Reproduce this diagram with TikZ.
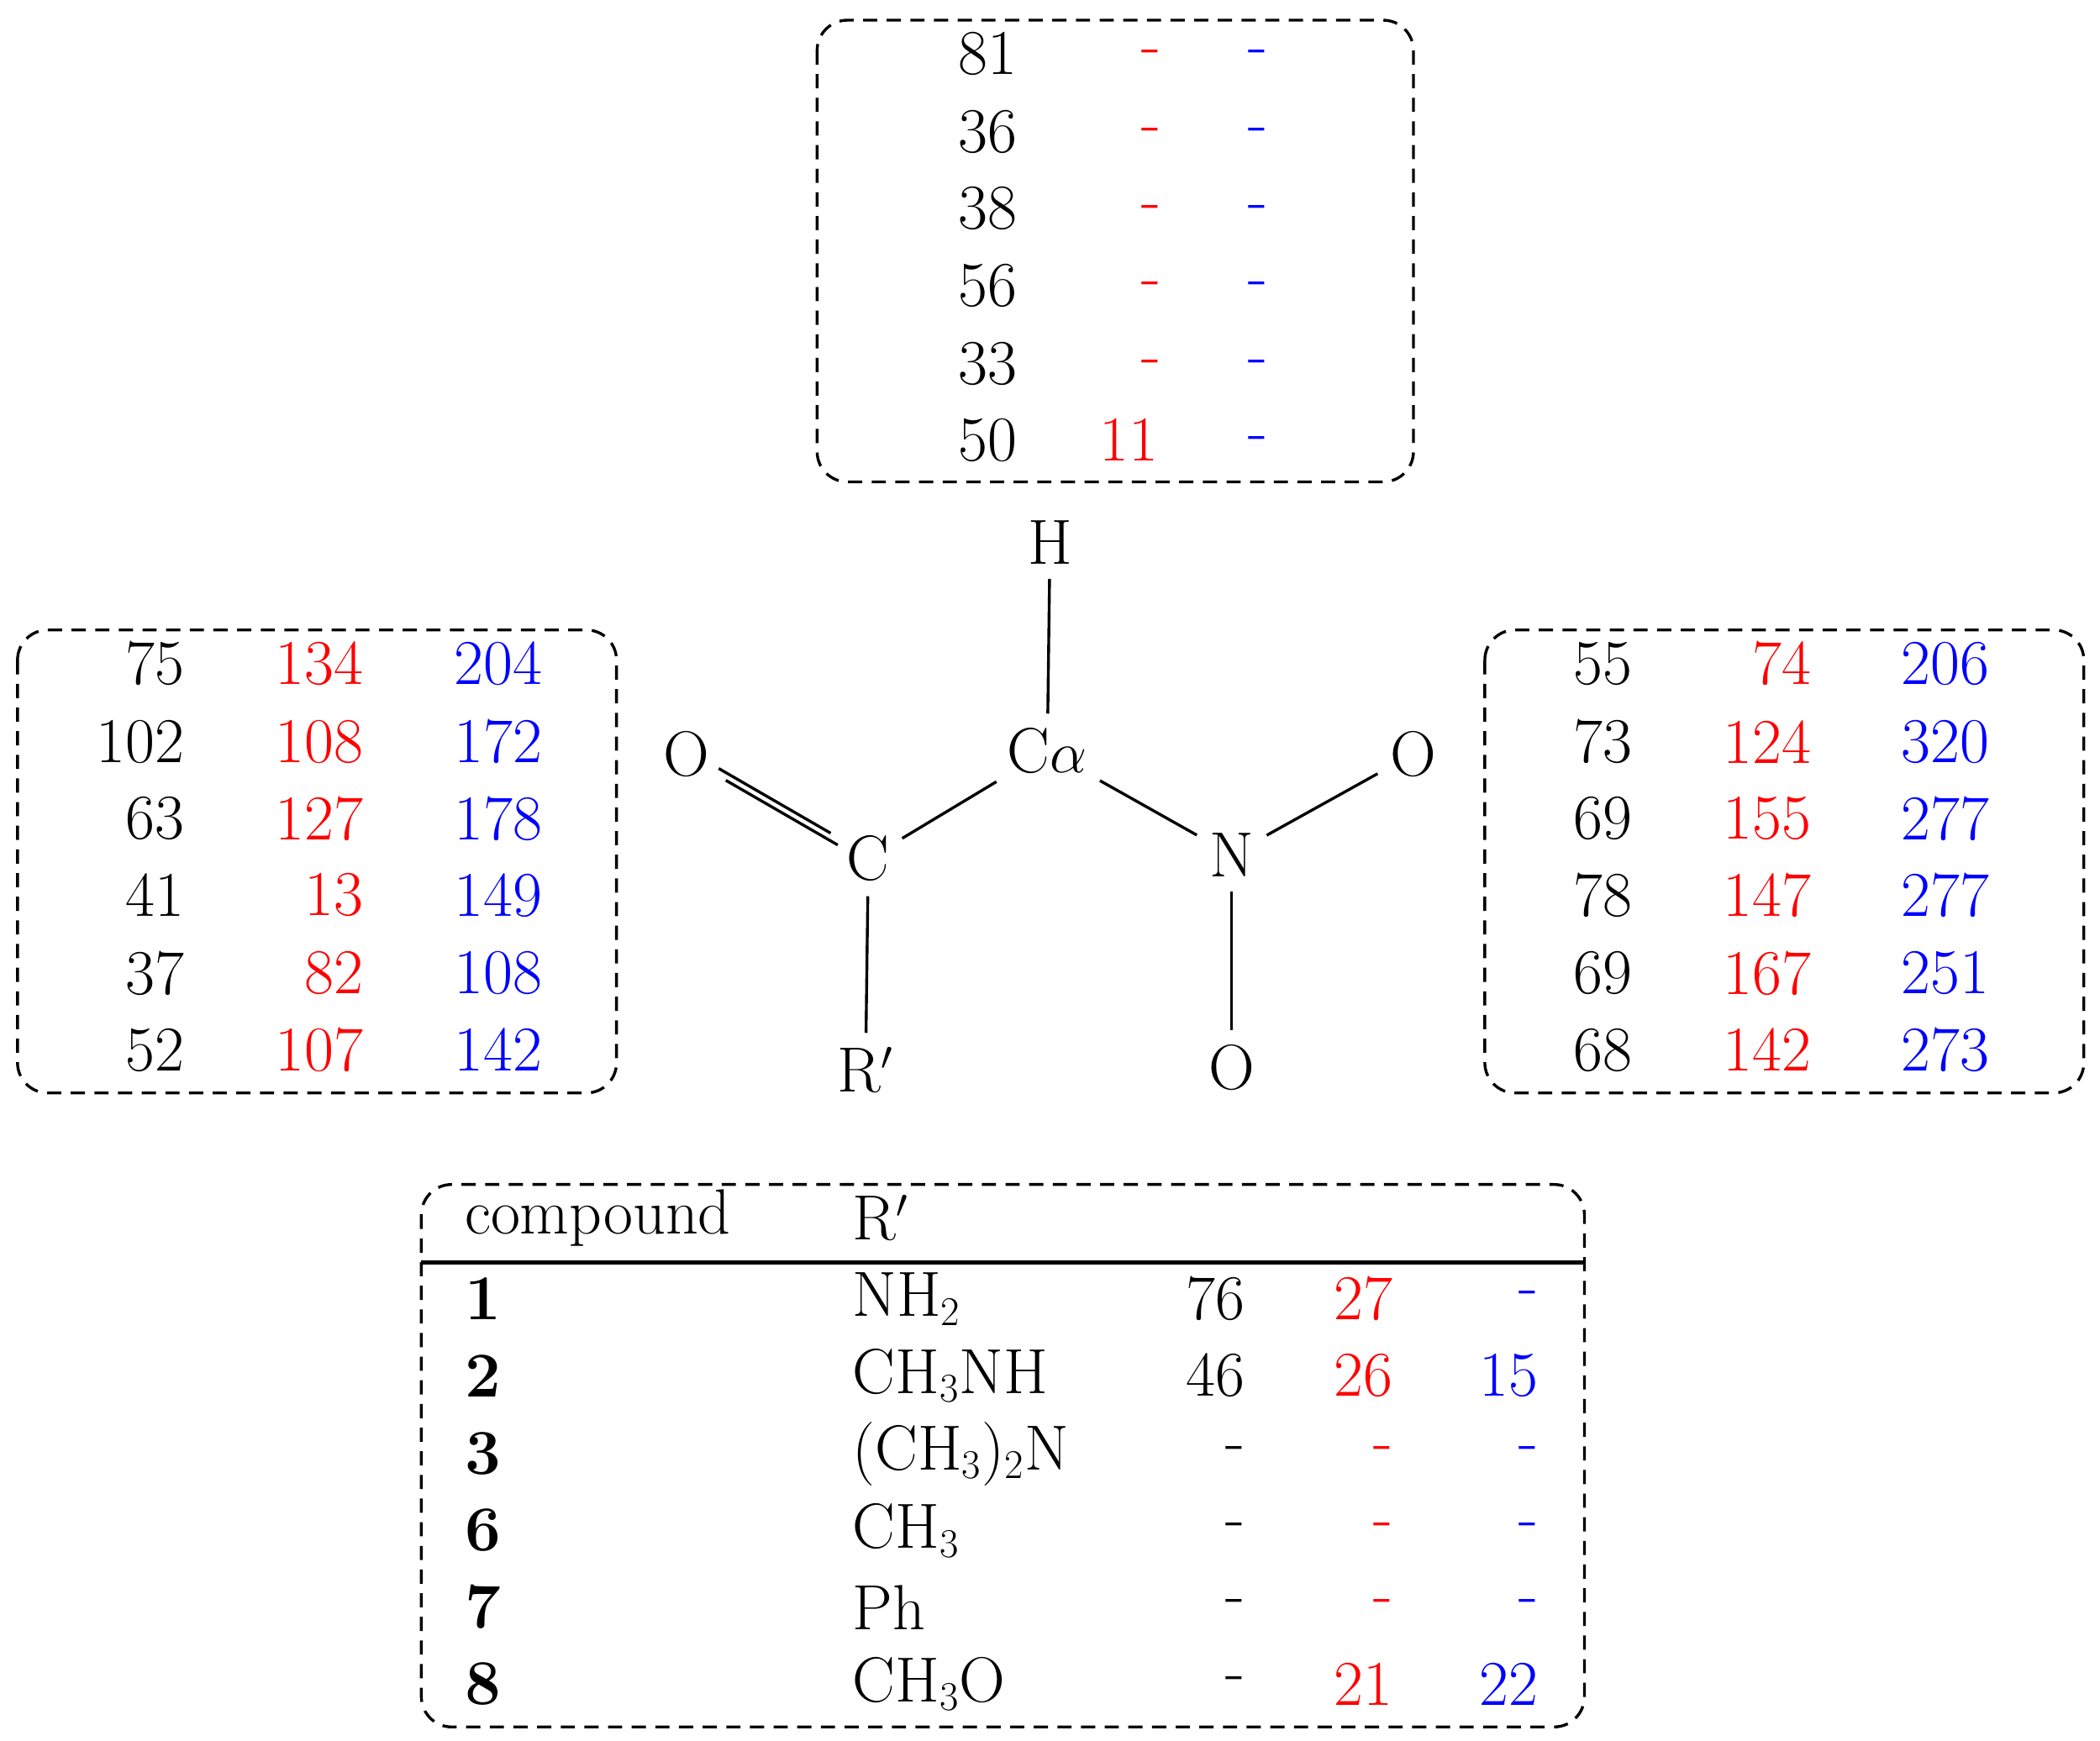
\documentclass[tikz,border=0pt]{standalone}
\usepackage{xcolor}
\begin{document}
\begin{tikzpicture}[x=0.02cm,y=-0.02cm,
  every node/.style={font=\fontsize{27}{32}\selectfont,inner sep=0pt},
  box/.style={draw,dash pattern=on 6pt off 4pt,line width=1.2pt,rounded corners=0.45cm},
  bond/.style={line width=1.2pt,shorten >=6pt,shorten <=6pt},
  R/.style={anchor=east,text=red},
  B/.style={anchor=east,text=blue},
  K/.style={anchor=east},
  L/.style={anchor=west}]
\useasboundingbox (0,0) rectangle (1560,1293);
% boxes
\draw[box] (607,15) rectangle (1050,358);
\draw[box] (13,468) rectangle (458,812);
\draw[box] (1103,468) rectangle (1548,812);
\draw[box] (313,880) rectangle (1177,1283);
\draw[line width=1.5pt] (313,938) -- (1177,938);
% top box
\foreach \y/\a in {40/81,98/36,155/38,212/56,270/33,327/50}{
  \node[K] (t\a\y) at (756,\y) {\a};
  \node[B] (tb\y) at (942,\y+3) {-};
}
\foreach \y in {40,98,155,212,270}{\node[R] (tr\y) at (863,\y+3) {-};}
\node[R] (tr327) at (861,327) {11};
% left box
\foreach \y/\a/\b/\c [count=\i] in {493/75/134/204,551/102/108/172,608/63/127/178,665/41/13/149,723/37/82/108,780/52/107/142}{
  \node[K] (lk\i) at (137,\y) {\a};
  \node[R] (lr\i) at (270,\y) {\b};
  \node[B] (lb\i) at (403,\y) {\c};
}
% right box
\foreach \y/\a/\b/\c [count=\i] in {493/55/74/206,551/73/124/320,608/69/155/277,665/78/147/277,723/69/167/251,780/68/142/273}{
  \node[K] (rk\i) at (1213,\y) {\a};
  \node[R] (rr\i) at (1346,\y) {\b};
  \node[B] (rb\i) at (1478,\y) {\c};
}
% bottom table
\node[L] (hc) at (345,905) {compound};
\node[L] (hr) at (633,905) {R$'$};
\foreach \y/\n/\r/\a/\b/\c [count=\i] in {
  965/1/NH$_2$/76/27/-,
  1022/2/CH$_3$NH/46/26/15,
  1080/3/(CH$_3$)$_2$N/-/-/-,
  1137/6/CH$_3$/-/-/-,
  1194/7/Ph/-/-/-,
  1251/8/CH$_3$O/-/21/22}{
  \node[L] (bn\i) at (345,\y) {\textbf{\n}};
  \node[L] (br\i) at (633,\y) {\r};
  \node[K] (bk\i) at (925,\y) {\a};
  \node[R] (bR\i) at (1035,\y) {\b};
  \node[B] (bB\i) at (1143,\y) {\c};
}
% molecule
\node (H) at (780,403) {H};
\node (Ca) at (778,558) {C$\alpha$};
\node (C) at (645,638) {C};
\node (O1) at (510,560) {O};
\node (Rp) at (643,795) {R$'$};
\node (N) at (915,635) {N};
\node (O2) at (1050,560) {O};
\node (O3) at (915,793) {O};
\draw[bond] (Ca) -- (H);
\draw[bond] (C) -- (Ca);
\draw[bond] (Ca) -- (N);
\draw[bond] (N) -- (O2);
\draw[bond] (N) -- (O3);
\draw[bond] (C) -- (Rp);
\draw[bond,transform canvas={xshift=-1.5pt,yshift=2.5pt}] (C) -- (O1);
\draw[bond,transform canvas={xshift=1.5pt,yshift=-2.5pt}] (C) -- (O1);
\end{tikzpicture}
\end{document}
